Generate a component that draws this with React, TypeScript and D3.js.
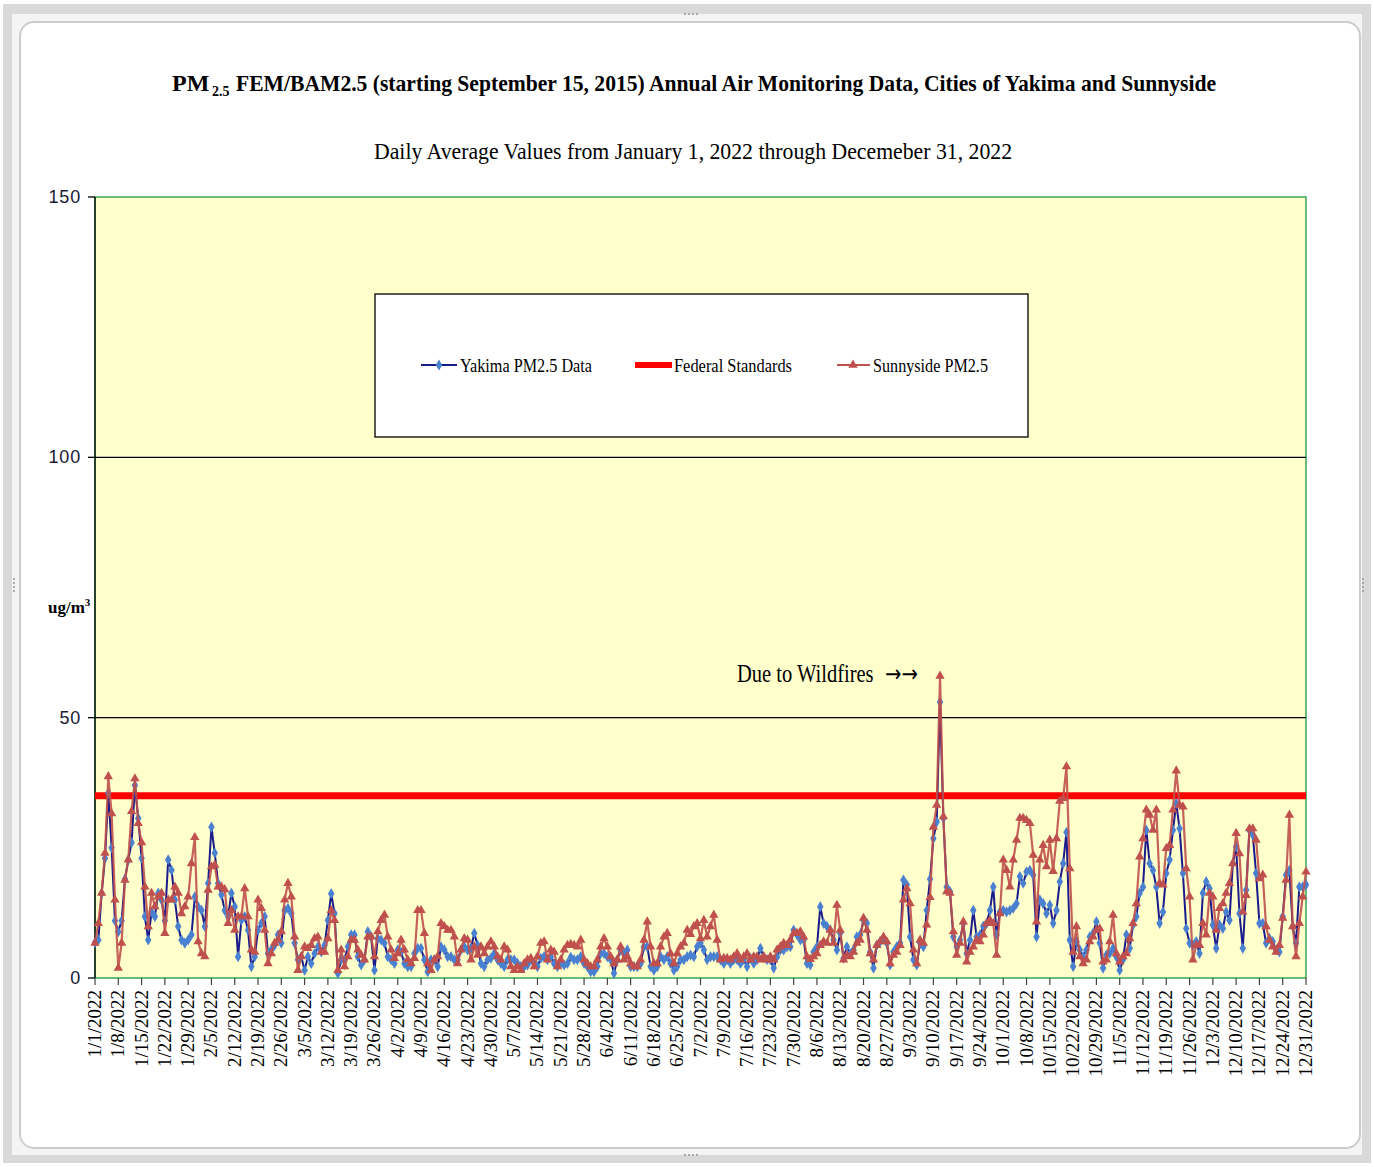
import * as d3 from 'd3'

// daily averages, ug/m3, 1/1/2022 .. 12/31/2022
const yakima = [
  6.8, 7.3, 16.3, 23, 35.5, 25, 11, 8.9, 11, 19,
  22.7, 26, 37, 30.7, 23, 11.8, 7.3, 12.7, 11.8, 16.3,
  15, 11, 22.7, 20.7, 15, 9.9, 7.3, 6.7, 7.3, 8.3,
  15.6, 13.7, 13, 9.9, 18.2, 29, 24, 18.2, 16, 13,
  11.8, 16.3, 13.7, 4.1, 11.1, 11.8, 9.2, 2.2, 4.1, 9.2,
  10.5, 11.8, 4.7, 5.4, 6.3, 8.3, 6.7, 13, 13.4, 12.4,
  6.7, 3.5, 4.1, 1.5, 4.1, 2.8, 4.7, 6, 5, 6.3,
  11.1, 16.2, 12.4, 0.9, 3.5, 3.5, 6, 8.3, 8.3, 4.1,
  2.5, 3.5, 8.9, 7.9, 1.5, 7.6, 7.3, 6.7, 4.1, 3.5,
  2.8, 5.4, 5, 2.8, 2.2, 2.2, 4.7, 5.7, 5.7, 3.5,
  1.2, 3.5, 3.5, 2.2, 6, 5.4, 4.1, 4.1, 3.5, 3.5,
  5.4, 6, 5.4, 5.7, 8.6, 6.3, 2.8, 2.2, 3.5, 3.8,
  4.7, 3.5, 2.8, 2.2, 3.5, 3.5, 3.5, 2.8, 2.2, 2.2,
  2.5, 3.5, 2.8, 2.2, 3.8, 4.1, 3.5, 4.1, 2.8, 2.2,
  2.8, 2.5, 2.8, 4, 3.5, 3.5, 4.1, 2.8, 2.2, 1.2,
  1.2, 2.2, 4.7, 4.7, 4.1, 3.5, 0.9, 3.5, 5.4, 4.7,
  5.4, 2.2, 2.2, 2.2, 2.8, 6, 6, 2.2, 1.5, 2.2,
  4.1, 3.5, 4.1, 2.8, 1.5, 2.2, 3.5, 3.5, 4.1, 4.4,
  4.1, 6, 6.7, 5.4, 3.5, 4.1, 4.1, 4.1, 3.5, 2.8,
  3.5, 2.8, 3.5, 3.5, 2.8, 3.5, 2.2, 3.8, 2.8, 3.5,
  5.7, 4.1, 3.5, 3.5, 1.9, 4.1, 5.4, 5.4, 6, 6,
  9.2, 8.3, 7.3, 7.3, 2.8, 2.5, 5, 6, 13.7, 10.5,
  9.9, 9.2, 7.3, 5.4, 8.6, 3.8, 6, 4.7, 5.4, 7.9,
  8.3, 11.1, 10.5, 5, 1.9, 6.3, 7, 7.6, 6.7, 2.5,
  5, 6, 6.7, 18.8, 17.9, 7.9, 3.5, 2.5, 6.7, 6,
  13, 19, 26.8, 30, 53, 30.7, 17.5, 16.6, 7.9, 6,
  7.3, 10.5, 4.7, 7.3, 13, 7.9, 8.3, 9.9, 10.5, 13,
  17.5, 8.3, 12.7, 13, 12.7, 13, 13.4, 14.3, 19.5, 18.2,
  20.4, 20.7, 19.8, 7.9, 15, 14.3, 12.4, 14, 10.5, 13,
  18.5, 22, 28, 7.3, 2.2, 7, 5.4, 4.1, 5.4, 7.9,
  8.6, 10.8, 6.7, 1.9, 4.4, 4.7, 5.7, 4.1, 1.5, 3.5,
  8.3, 5.7, 10.2, 11.8, 16.3, 17.5, 28.4, 22, 20.7, 17.5,
  10.5, 12.7, 20.1, 22.7, 28.4, 33.5, 28.7, 20.1, 9.5, 6.7,
  6.3, 7, 4.7, 16.3, 18.5, 17.2, 10.2, 5.7, 10.2, 9.5,
  12.7, 11.1, 22, 25.2, 12.4, 5.7, 16.9, 28.4, 27.5, 20.1,
  10.5, 10.5, 6.7, 7.6, 7, 5.4, 5, 11.8, 19.8, 20.7,
  9.9, 6.7, 17.5, 17.5, 17.9,
]

const sunnyside = [
  6.7, 10.5, 16.3, 24, 38.7, 31.6, 15, 1.9, 6.7, 18.8,
  22.7, 32, 38.3, 29.7, 26, 17.5, 9.9, 16.3, 13.7, 15.6,
  16.3, 8.6, 15, 15, 17.5, 16.3, 12.4, 13.7, 15.6, 22,
  27, 7, 4.7, 4.1, 16.9, 21.4, 21.7, 17.5, 17.5, 17,
  10.5, 13, 9.2, 11.8, 11.8, 17.2, 11.8, 5.4, 5, 15,
  13.4, 9.2, 2.8, 4.7, 6.7, 7.3, 8.9, 15, 18.2, 15.6,
  7.9, 1.5, 4.1, 6, 5.7, 6.3, 7.6, 7.9, 5, 5,
  7.6, 13, 11.1, 1.5, 5.4, 2.2, 4.1, 7.3, 7.3, 5.4,
  4.4, 3.5, 7.9, 7.9, 4.1, 8.9, 11.1, 12.1, 7.9, 5.4,
  3.8, 4.7, 7.3, 5.4, 3.5, 2.8, 3.8, 13, 13, 8.6,
  2.8, 1.5, 3.5, 4.1, 10.5, 9.9, 9.2, 9.2, 7.9, 2.8,
  5.4, 7.6, 7.3, 3.5, 6, 4.4, 6, 4.7, 6, 7,
  6, 4.1, 3.5, 6, 5.4, 2.2, 1.5, 2.2, 1.5, 2.8,
  3.5, 3.8, 2.2, 4.1, 6.7, 7, 3.5, 5.4, 5, 2.2,
  3.5, 5.4, 6.3, 6.5, 6.3, 6, 7.3, 3.5, 2.8, 2.2,
  2.2, 3.5, 6, 7.6, 6, 4.1, 2.8, 3.5, 6, 3.5,
  4.1, 2.8, 2.2, 2.2, 3.5, 7.3, 10.8, 6, 2.8, 2.8,
  6, 7.9, 8.6, 4.7, 2.8, 4.7, 6, 6.7, 9.2, 8.4,
  9.9, 10.5, 7.6, 11.1, 7.9, 9.9, 12.1, 7.3, 3.5, 3.8,
  3.8, 3.5, 4.1, 4.7, 3.5, 4.1, 4.7, 3.5, 4.1, 4.1,
  3.5, 4.1, 3.5, 4.1, 3.5, 5.4, 6, 6.7, 6.3, 7.3,
  8.6, 8.6, 8.9, 7.9, 4.1, 3.6, 4.1, 4.7, 6.3, 7,
  6.7, 9.2, 6.7, 14, 9.2, 3.5, 4.4, 4.1, 5, 6.7,
  7.3, 11.5, 9.2, 4.7, 3.5, 6.3, 7, 7.9, 7, 2.8,
  4.4, 5, 6.3, 15, 17.2, 14.3, 5.4, 2.8, 7.3, 6.7,
  10.2, 15.5, 29, 33.2, 58, 31, 16.6, 16.3, 8.9, 4.4,
  6.7, 10.8, 3.1, 5, 6, 7.3, 7, 8.3, 10.5, 11.1,
  10.5, 4.4, 12.4, 22.7, 20.7, 17.5, 22.7, 26.5, 30.7, 30.7,
  30.3, 29.7, 23.6, 10.8, 22.7, 25.5, 21.4, 26.5, 20.5, 26.8,
  34, 34.5, 40.6, 21, 5, 9.9, 4.1, 2.8, 3.5, 7,
  7.9, 9.2, 9.5, 3.1, 3.5, 7, 12.1, 4.7, 3.1, 4.1,
  4.7, 7.6, 10.5, 14.3, 23.3, 26.8, 32.3, 31.3, 28.4, 32.3,
  18.2, 17.9, 24.9, 25.5, 32.3, 39.8, 33.2, 32.9, 21, 15.6,
  3.5, 6.3, 6.3, 10.5, 8.3, 16.3, 15.6, 9.2, 13.4, 14.3,
  16.3, 18.2, 22, 27.8, 23.9, 12.7, 15.9, 28.7, 28.7, 26.5,
  19.1, 19.8, 9.9, 7.3, 6, 5, 6.3, 11.5, 18.8, 31.3,
  9.9, 4.1, 10.5, 15.6, 20.4,
]

const federalStandard = 35
const yTicks = [0, 50, 100, 150]
const gridValues = [50, 100]

const width = 1374
const height = 1167
const marginLeft = 95
const plotRight = 1306
const plotTop = 197
const plotBottom = 978

const serif = '"Liberation Serif", "Times New Roman", serif'
const sans = '"Liberation Sans", Arial, sans-serif'

export default function App() {
  const days = d3.timeDay.range(new Date(2022, 0, 1), new Date(2023, 0, 1))
  const x = d3.scaleTime([days[0], days[days.length - 1]], [marginLeft, plotRight])
  const y = d3.scaleLinear([0, 150], [plotBottom, plotTop])

  const line = d3
    .line<number>()
    .x((_, i) => x(days[i]))
    .y((d) => y(d))

  const weekTicks = days.filter((_, i) => i % 7 === 0)
  const fmt = d3.timeFormat('%-m/%-d/%Y')

  const diamond = d3.symbol(d3.symbolDiamond, 36)() as string
  const triangle = d3.symbol(d3.symbolTriangle, 38)() as string

  const blueLine = '#1a1a8a'
  const blueMark = '#4a80d0'
  const redLine = '#c0504d'

  // legend row
  const ly = 365

  return (
    <svg
      width={width}
      height={height}
      style={{ position: 'absolute', left: 0, top: 0 }}
    >
      {/* frame */}
      <rect x={0} y={0} width={width} height={height} fill="#ffffff" />
      <rect x={3} y={4} width={width - 6} height={height - 8} fill="#d9d9d9" />
      <rect x={12} y={14} width={width - 24} height={height - 26} fill="#f4f4f4" />
      <rect
        x={20}
        y={22}
        width={1340}
        height={1126}
        rx={14}
        fill="#ffffff"
        stroke="#cccccc"
        strokeWidth={2}
      />
      {[0, 1, 2, 3].map((i) => (
        <g key={i} fill="#a8a8a8">
          <rect x={684 + i * 4} y={13} width={2} height={2} />
          <rect x={684 + i * 4} y={1154} width={2} height={2} />
          <rect x={13} y={578 + i * 4} width={2} height={2} />
          <rect x={1362} y={578 + i * 4} width={2} height={2} />
        </g>
      ))}

      {/* titles */}
      <text x={172} y={91} fontFamily={serif} fontWeight="bold" fontSize={24} fill="#000">
        PM
      </text>
      <text x={212} y={96} fontFamily={serif} fontWeight="bold" fontSize={14} fill="#000">
        2.5
      </text>
      <text
        x={236}
        y={91}
        fontFamily={serif}
        fontWeight="bold"
        fontSize={24}
        textLength={980}
        lengthAdjust="spacingAndGlyphs"
        fill="#000"
      >
        FEM/BAM2.5 (starting September 15, 2015) Annual  Air  Monitoring  Data, Cities of Yakima  and  Sunnyside
      </text>
      <text
        x={374}
        y={159}
        fontFamily={serif}
        fontSize={24}
        textLength={638}
        lengthAdjust="spacingAndGlyphs"
        fill="#000"
      >
        Daily  Average  Values  from  January  1, 2022 through  Decemeber  31, 2022
      </text>

      {/* plot area */}
      <rect
        x={marginLeft}
        y={plotTop}
        width={plotRight - marginLeft}
        height={plotBottom - plotTop}
        fill="#ffffcc"
        stroke="#3aa655"
        strokeWidth={1.5}
      />
      {gridValues.map((v) => (
        <line
          key={v}
          x1={marginLeft}
          x2={plotRight}
          y1={y(v)}
          y2={y(v)}
          stroke="#000"
          strokeWidth={1.3}
        />
      ))}
      <line x1={marginLeft} x2={marginLeft} y1={plotTop} y2={plotBottom} stroke="#000" strokeWidth={1.3} />

      {/* y axis */}
      {yTicks.map((v) => (
        <g key={v}>
          <line x1={marginLeft - 7} x2={marginLeft} y1={y(v)} y2={y(v)} stroke="#000" strokeWidth={1.3} />
          <text
            x={81}
            y={y(v) + 6}
            textAnchor="end"
            fontFamily={sans}
            fontSize={18}
            letterSpacing={0.8}
            fill="#1a1a33"
          >
            {v}
          </text>
        </g>
      ))}
      <text x={48} y={613} fontFamily={serif} fontWeight="bold" fontSize={17} fill="#000">
        ug/m<tspan fontSize={11} dy={-7}>3</tspan>
      </text>

      {/* x axis */}
      {weekTicks.map((d) => (
        <g key={+d} transform={`translate(${x(d)},0)`}>
          <line y1={plotBottom} y2={plotBottom + 7} stroke="#444" strokeWidth={1.2} />
          <text
            transform={`translate(6,${plotBottom + 12}) rotate(-90)`}
            textAnchor="end"
            fontFamily={serif}
            fontSize={19}
            fill="#000"
          >
            {fmt(d)}
          </text>
        </g>
      ))}

      {/* federal standard */}
      <line
        x1={marginLeft}
        x2={plotRight}
        y1={y(federalStandard)}
        y2={y(federalStandard)}
        stroke="#ff0000"
        strokeWidth={7}
      />

      {/* series */}
      <path d={line(yakima) as string} fill="none" stroke={blueLine} strokeWidth={2} />
      {yakima.map((v, i) => (
        <path key={i} d={diamond} transform={`translate(${x(days[i])},${y(v)})`} fill={blueMark} />
      ))}
      <path d={line(sunnyside) as string} fill="none" stroke={redLine} strokeWidth={2.2} strokeOpacity={0.9} />
      {sunnyside.map((v, i) => (
        <path key={i} d={triangle} transform={`translate(${x(days[i])},${y(v)})`} fill={redLine} />
      ))}

      {/* annotation */}
      <text
        transform="translate(737,682) scale(0.82,1)"
        fontFamily={serif}
        fontSize={25}
        fill="#000"
      >
        Due to Wildfires
        <tspan dx={14} fontFamily='"DejaVu Sans", sans-serif' fontSize={24}>
          →→
        </tspan>
      </text>

      {/* legend */}
      <rect x={375} y={294} width={653} height={143} fill="#ffffff" stroke="#000" strokeWidth={1.3} />
      <line x1={421} x2={457} y1={ly} y2={ly} stroke={blueLine} strokeWidth={1.8} />
      <path d={diamond} transform={`translate(439,${ly})`} fill={blueMark} />
      <text x={460} y={ly + 7} fontFamily={serif} fontSize={19} textLength={132} lengthAdjust="spacingAndGlyphs">
        Yakima PM2.5 Data
      </text>
      <line x1={635} x2={672} y1={ly} y2={ly} stroke="#ff0000" strokeWidth={6} />
      <text x={674} y={ly + 7} fontFamily={serif} fontSize={19} textLength={118} lengthAdjust="spacingAndGlyphs">
        Federal Standards
      </text>
      <line x1={837} x2={870} y1={ly} y2={ly} stroke={redLine} strokeWidth={2} />
      <path d={triangle} transform={`translate(853,${ly})`} fill={redLine} />
      <text x={873} y={ly + 7} fontFamily={serif} fontSize={19} textLength={115} lengthAdjust="spacingAndGlyphs">
        Sunnyside PM2.5
      </text>
    </svg>
  )
}
